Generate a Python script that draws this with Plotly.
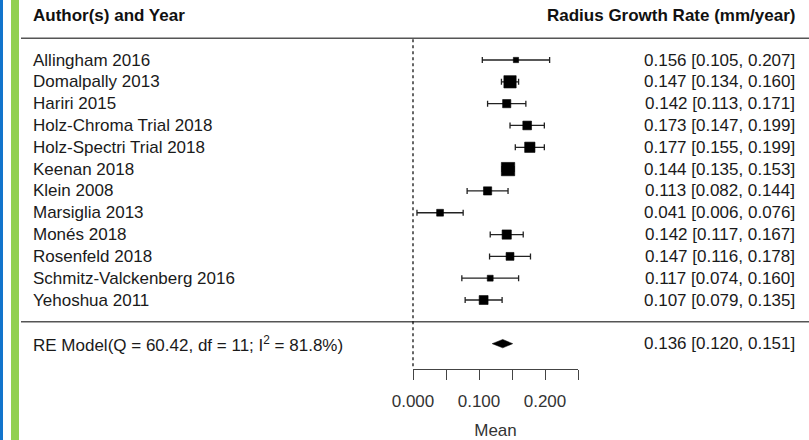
import plotly.graph_objects as go

# ---------------- data ----------------
studies = ["Allingham 2016", "Domalpally 2013", "Hariri 2015", "Holz-Chroma Trial 2018",
           "Holz-Spectri Trial 2018", "Keenan 2018", "Klein 2008", "Marsiglia 2013",
           "Monés 2018", "Rosenfeld 2018", "Schmitz-Valckenberg 2016", "Yehoshua 2011"]
estimates = [0.156, 0.147, 0.142, 0.173, 0.177, 0.144, 0.113, 0.041, 0.142, 0.147, 0.117, 0.107]
ci_lower = [0.105, 0.134, 0.113, 0.147, 0.155, 0.135, 0.082, 0.006, 0.117, 0.116, 0.074, 0.079]
ci_upper = [0.207, 0.160, 0.171, 0.199, 0.199, 0.153, 0.144, 0.076, 0.167, 0.178, 0.160, 0.135]
weights = [5.0, 11.7, 7.8, 8.3, 9.8, 12.7, 7.8, 6.5, 8.8, 7.5, 5.6, 8.5]  # relative weights (%)
re_est, re_lo, re_hi = 0.136, 0.120, 0.151
re_label = "RE Model(Q = 60.42, df = 11; I<sup>2</sup> = 81.8%)"
header_left = "Author(s) and Year"
header_right = "Radius Growth Rate (mm/year)"
tick_vals = [0.0, 0.05, 0.10, 0.15, 0.20, 0.25]
tick_text = ["0.000", "", "0.100", "", "0.200", ""]
x_title = "Mean"

# ---------------- layout geometry ----------------
W, H = 809, 440
x0_px, px_per_unit = 413, 660.0
row0_px, row_px = 60.0, 21.82
axis_px = 369.0

rows = list(range(len(studies)))
re_row = len(studies) + 1

def ypx(p):
    return (p - row0_px) / row_px

FONT = "Liberation Sans, Arial, sans-serif"
TXT = "#1a1a1a"

fig = go.Figure()

# study estimates with CIs
fig.add_trace(go.Scatter(
    x=estimates, y=rows, xaxis="x2", yaxis="y", mode="markers",
    marker=dict(symbol="square", color="#000000", opacity=1,
                size=[w * 1.05 for w in weights],
                line=dict(width=0.6, color="#000000")),
    error_x=dict(type="data", symmetric=False,
                 array=[h - e for h, e in zip(ci_upper, estimates)],
                 arrayminus=[e - l for e, l in zip(estimates, ci_lower)],
                 color="#222222", thickness=1.3, width=3),
    hoverinfo="skip", showlegend=False, cliponaxis=False,
))

# RE model diamond
dh = 4.2 / row_px
fig.add_trace(go.Scatter(
    x=[re_lo, re_est, re_hi, re_est, re_lo],
    y=[re_row, re_row - dh, re_row, re_row + dh, re_row],
    xaxis="x2", yaxis="y", mode="lines", fill="toself",
    fillcolor="black", line=dict(color="black", width=0.5),
    hoverinfo="skip", showlegend=False,
))

annotations = []
# headers
annotations.append(dict(x=31 / W, xref="paper", y=ypx(15), yref="y", text="<b>%s</b>" % header_left,
                        xanchor="left", yanchor="middle", showarrow=False,
                        font=dict(family=FONT, size=17, color="#111111")))
annotations.append(dict(x=797 / W, xref="paper", y=ypx(15), yref="y", text="<b>%s</b>" % header_right,
                        xanchor="right", yanchor="middle", showarrow=False,
                        font=dict(family=FONT, size=17, color="#111111")))
# study rows
for r, s, e, l, h in zip(rows, studies, estimates, ci_lower, ci_upper):
    annotations.append(dict(x=31 / W, xref="paper", y=r, yref="y", text=s,
                            xanchor="left", yanchor="middle", showarrow=False,
                            font=dict(family=FONT, size=17, color=TXT)))
    annotations.append(dict(x=797 / W, xref="paper", y=r, yref="y",
                            text=f"{e:.3f} [{l:.3f}, {h:.3f}]",
                            xanchor="right", yanchor="middle", showarrow=False,
                            font=dict(family=FONT, size=17, color=TXT)))
# RE row
annotations.append(dict(x=31 / W, xref="paper", y=re_row, yref="y", text=re_label,
                        xanchor="left", yanchor="middle", showarrow=False,
                        font=dict(family=FONT, size=17, color=TXT)))
annotations.append(dict(x=797 / W, xref="paper", y=re_row, yref="y",
                        text=f"{re_est:.3f} [{re_lo:.3f}, {re_hi:.3f}]",
                        xanchor="right", yanchor="middle", showarrow=False,
                        font=dict(family=FONT, size=17, color=TXT)))

shapes = [
    # left decorative bars
    dict(type="rect", xref="paper", yref="paper", x0=0, x1=3 / W, y0=0, y1=1,
         fillcolor="#1274CC", line=dict(width=0), layer="below"),
    dict(type="rect", xref="paper", yref="paper", x0=11 / W, x1=19 / W, y0=0, y1=1,
         fillcolor="#92D050", line=dict(width=0), layer="below"),
    # header rule and separator
    dict(type="line", xref="x", yref="y", x0=(21 - x0_px) / px_per_unit, x1=(W - x0_px) / px_per_unit,
         y0=-1.0, y1=-1.0, line=dict(color="#555555", width=1.5)),
    dict(type="line", xref="x", yref="y", x0=(21 - x0_px) / px_per_unit, x1=(W - x0_px) / px_per_unit,
         y0=len(studies), y1=len(studies), line=dict(color="#555555", width=1.5)),
    # reference line at 0
    dict(type="line", xref="x", yref="y", x0=0, x1=0, y0=-0.95, y1=ypx(axis_px),
         line=dict(color="black", width=1.2, dash="dot")),
]

fig.update_layout(
    width=W, height=H, margin=dict(l=0, r=0, t=0, b=0, autoexpand=False),
    paper_bgcolor="white", plot_bgcolor="white",
    xaxis=dict(domain=[0, 1], anchor="y", range=[-x0_px / px_per_unit, (W - x0_px) / px_per_unit],
               visible=False, fixedrange=True),
    xaxis2=dict(domain=[x0_px / W, (x0_px + 0.25 * px_per_unit) / W], anchor="free",
                position=1 - axis_px / H, range=[0, 0.25],
                tickvals=tick_vals, ticktext=tick_text, ticks="outside", ticklen=10,
                tickwidth=1.3, tickcolor="#444444", showline=True, linecolor="#444444",
                linewidth=1.3, showgrid=False, zeroline=False, ticklabelstandoff=6,
                tickfont=dict(family=FONT, size=17, color="#333333"),
                title=dict(text=x_title, font=dict(family=FONT, size=17, color="#333333"), standoff=23)),
    yaxis=dict(domain=[0, 1], range=[ypx(H), ypx(0)], visible=False, fixedrange=True),
    annotations=annotations, shapes=shapes,
)

fig.write_html("out.html")
